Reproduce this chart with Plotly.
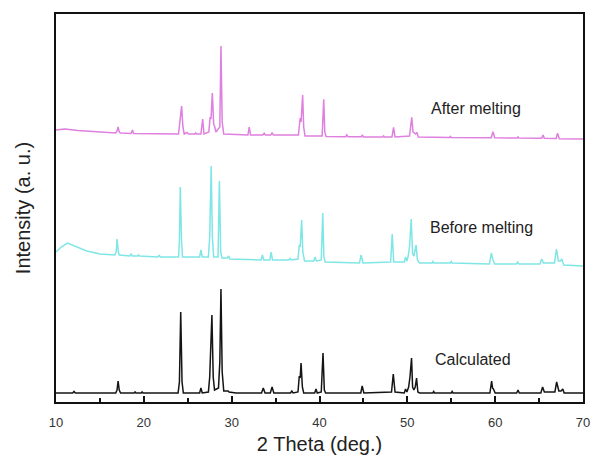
import plotly.graph_objects as go

# ---- data (2θ in degrees, intensity in arbitrary units, traces already offset) ----
calc_x = [10.0, 11.9, 12.05, 12.2, 16.8, 16.95, 17.07, 17.2, 17.35, 18.9, 19.0, 19.1, 19.7, 19.8, 19.9,
          23.9, 24.05, 24.2, 24.35, 24.5, 26.35, 26.5, 26.65, 27.35, 27.5, 27.6, 27.75, 27.9, 28.05,
          28.5, 28.65, 28.78, 28.92, 29.1, 29.6, 29.7, 30.5, 33.4, 33.6, 33.8, 34.4, 34.6, 34.8,
          36.7, 36.85, 37.0, 37.55, 37.7, 37.8, 37.9, 38.05, 38.2, 39.45, 39.6, 39.75, 40.2, 40.4,
          40.55, 40.7, 44.7, 44.86, 45.05, 48.2, 48.4, 48.6, 49.65, 49.8, 49.95, 50.15, 50.3, 50.48,
          50.6, 50.75, 50.9, 51.05, 51.2, 51.4, 52.9, 53.0, 53.1, 55.0, 55.1, 55.2, 59.4, 59.6, 59.7,
          59.8, 60.0, 62.45, 62.6, 62.75, 65.2, 65.4, 65.6, 66.8, 67.0, 67.25, 67.5, 67.7, 67.85, 70.0]
calc_y = [9, 9, 10.5, 9, 9, 12, 21, 12, 9, 9, 10, 9, 9, 10, 9,
          9, 20, 90, 20, 9, 9, 14, 9, 10, 25, 45, 87, 25, 12,
          14, 40, 113, 30, 11, 11, 10, 9, 9, 14, 9, 9, 15, 9,
          9, 11, 9, 10, 26, 24, 39, 15, 9, 9, 13, 9, 10, 49,
          12, 9, 9, 16, 9, 10, 28, 10, 9, 13, 10, 15, 25, 44,
          15, 12, 15, 24, 10, 9, 9, 10.5, 9, 9, 10.5, 9, 9, 21, 14,
          13, 9, 9, 12, 9, 9, 15, 10, 10, 20, 11, 11, 13, 9, 9]

before_x = [10.0, 10.6, 11.3, 12.2, 13.5, 15.0, 16.7, 16.85, 16.95, 17.1, 17.2, 18.4, 18.55, 18.7,
            19.3, 19.4, 19.5, 21.6, 21.75, 21.9, 23.95, 24.05, 24.15, 24.3, 24.4, 26.35, 26.5, 26.65,
            27.35, 27.5, 27.67, 27.8, 27.95, 28.45, 28.6, 28.75, 28.9, 29.5, 29.65, 29.8, 33.35, 33.5,
            33.65, 34.35, 34.5, 34.65, 36.5, 36.65, 36.8, 37.55, 37.7, 37.8, 37.97, 38.1, 38.3, 39.35,
            39.5, 39.65, 40.2, 40.37, 40.5, 40.65, 44.55, 44.74, 44.95, 48.1, 48.28, 48.45, 49.65, 49.8,
            49.95, 50.1, 50.25, 50.44, 50.6, 50.75, 50.85, 51.0, 51.15, 51.4, 52.8, 52.9, 53.0, 54.9,
            55.0, 55.1, 59.35, 59.56, 59.75, 59.95, 62.4, 62.56, 62.7, 65.1, 65.3, 65.5, 66.75, 66.98,
            67.2, 67.45, 67.6, 67.8, 70.0]
before_y = [150, 155, 159, 156, 151, 148, 147, 150, 163, 150, 147, 146, 148, 146,
            146, 147, 146, 145, 146.5, 145, 145, 160, 215, 160, 145, 145, 152, 145,
            145, 165, 236, 165, 145, 145, 221, 150, 144, 144, 146, 143, 142, 147,
            142, 142, 150, 142, 142, 143.5, 142, 143, 157, 155, 182, 150, 141, 141,
            145, 141, 142, 189, 145, 140, 139, 147, 139, 140, 168, 140, 140, 145,
            141, 146, 155, 183, 148, 146, 150, 157, 142, 139, 139, 140.5, 139, 139,
            140.5, 139, 138, 149, 142, 138, 138, 140, 138, 138, 143, 139, 139, 153,
            141, 141, 143, 137, 136]

after_x = [10.0, 11.0, 12.5, 14.5, 16.8, 16.95, 17.07, 17.2, 17.35, 18.55, 18.7, 18.85, 23.95, 24.1,
           24.3, 24.45, 24.6, 24.9, 25.1, 25.8, 25.9, 26.0, 26.5, 26.7, 26.85, 27.4, 27.55, 27.65,
           27.8, 27.95, 28.05, 28.2, 28.65, 28.78, 28.92, 29.1, 31.85, 32.0, 32.15, 33.55, 33.7, 33.85,
           34.45, 34.6, 34.75, 37.6, 37.8, 37.9, 38.08, 38.2, 38.35, 40.3, 40.48, 40.6, 40.75, 43.0,
           43.1, 43.25, 44.75, 44.86, 45.0, 47.2, 47.3, 47.4, 48.25, 48.43, 48.6, 50.25, 50.5, 50.65,
           50.95, 51.08, 51.25, 54.8, 54.9, 55.0, 59.55, 59.75, 59.95, 62.5, 62.6, 62.7, 65.3, 65.45,
           65.6, 66.95, 67.1, 67.3, 70.0]
after_y = [272, 273, 271.5, 270, 269, 271, 275, 270, 269, 268.5, 272, 268.5, 268, 280,
           296, 275, 268, 269.5, 268, 268, 269, 268, 268, 283, 268, 270, 285, 283,
           309, 278, 276, 270, 275, 356, 280, 268, 267, 275, 267, 267, 268.7, 267,
           267, 269.3, 267, 267, 284, 280, 307, 275, 266, 266, 302.7, 270, 265.5, 265.3,
           267, 265.3, 265.2, 267, 265, 265, 266, 265, 265, 274.7, 265, 266, 284.7, 270,
           268, 269.7, 265, 264.5, 265.5, 264.5, 264.3, 270.3, 264.3, 264, 265, 264, 263.8, 267,
           263.7, 263.5, 268.7, 263.3, 263]

series_names = ["Calculated", "Before melting", "After melting"]
label_x = [52.9, 52.3, 52.5]
label_y = [43, 175, 294]
x_tick_vals = [10, 20, 30, 40, 50, 60, 70]
x_tick_text = ["10", "20", "30", "40", "50", "60", "70"]

FONT = "Liberation Sans, Arial, sans-serif"
colors = ["#141414", "#7fe6e6", "#df7fdf"]

fig = go.Figure()
for xs, ys, name, c in zip([calc_x, before_x, after_x], [calc_y, before_y, after_y], series_names, colors):
    fig.add_trace(go.Scatter(x=xs, y=ys, mode="lines", name=name,
                             line=dict(color=c, width=1.5), showlegend=False))

for name, lx, ly in zip(series_names, label_x, label_y):
    fig.add_annotation(x=lx, y=ly, text=name, showarrow=False, xanchor="left", yanchor="middle",
                       font=dict(family=FONT, size=16, color="#222222"))

fig.update_layout(
    width=594, height=461,
    margin=dict(l=56, r=11, t=14, b=59, autoexpand=False),
    paper_bgcolor="white", plot_bgcolor="white",
    font=dict(family=FONT, color="#222222"),
    xaxis=dict(range=[10, 70], tickvals=x_tick_vals, ticktext=x_tick_text,
               ticks="inside", ticklen=6, tickwidth=1.5, tickcolor="#111",
               minor=dict(ticks="inside", ticklen=4, tickwidth=1.5, tickcolor="#111", dtick=5, tick0=15),
               showline=True, linewidth=2, linecolor="#111", mirror=True,
               showgrid=False, zeroline=False, automargin=False, ticklabelstandoff=7,
               tickfont=dict(family=FONT, size=13, color="#333333"),
               title=dict(text="2 Theta (deg.)", font=dict(family=FONT, size=20, color="#222222"), standoff=8)),
    yaxis=dict(range=[0, 388], showticklabels=False, ticks="",
               showline=True, linewidth=2, linecolor="#111", mirror=True,
               showgrid=False, zeroline=False, automargin=False,
               title=dict(text="Intensity (a. u.)", font=dict(family=FONT, size=20, color="#222222"), standoff=18)),
)

fig.write_html("out.html")
